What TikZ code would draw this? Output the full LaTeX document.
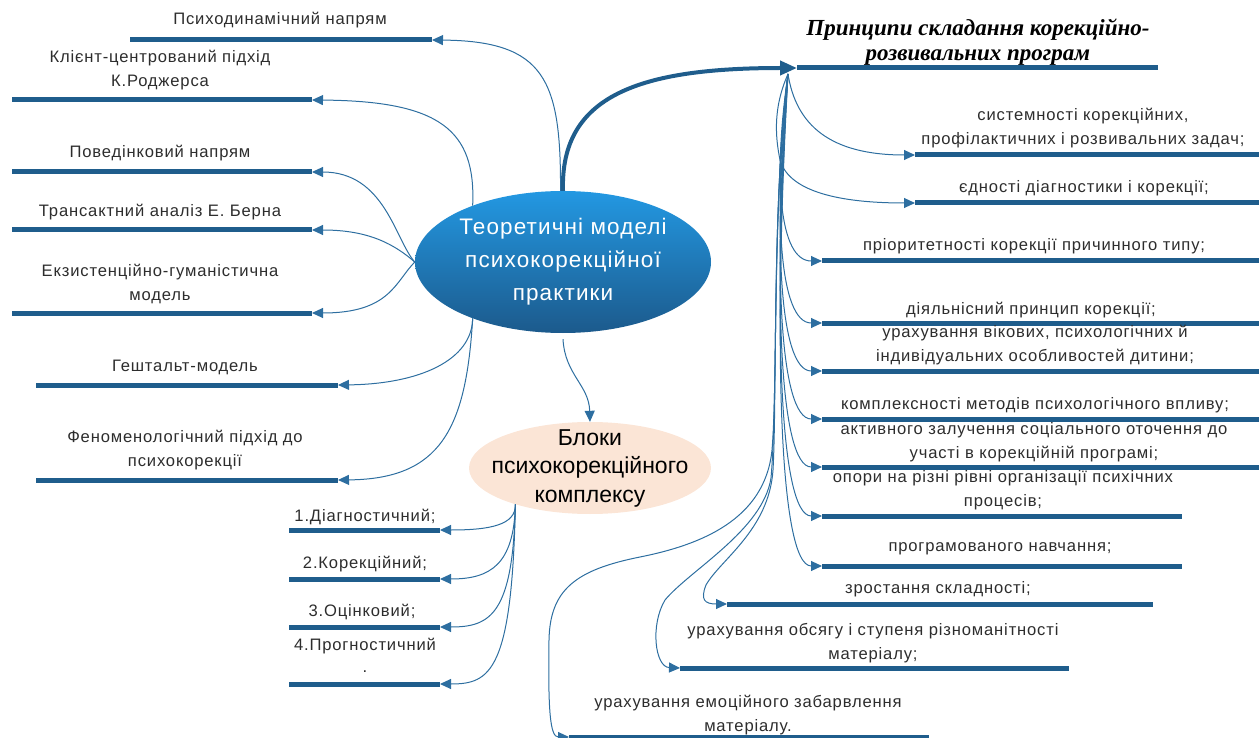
\documentclass[tikz,border=0pt]{standalone}
\usepackage{fontspec}
\setmainfont{Liberation Sans}
\newfontfamily\titlefont{Liberation Serif}
\newfontfamily\lblfont[LetterSpace=5]{Liberation Sans}
\usetikzlibrary{arrows.meta,shapes.geometric}
\definecolor{barblue}{RGB}{31,93,140}
\definecolor{curveblue}{RGB}{45,110,160}
\definecolor{txtgray}{RGB}{45,45,45}
\definecolor{ellTop}{RGB}{35,152,226}
\definecolor{ellBot}{RGB}{28,90,140}
\definecolor{peach}{RGB}{251,229,214}
\begin{document}
\begin{tikzpicture}[x=1pt,y=-1pt,
  bar/.style={barblue,line width=5pt},
  link/.style={curveblue,line width=1pt,-{Triangle[length=11pt,width=10pt]}},
  lbl/.style={text=txtgray,font=\lblfont\fontsize{16.6}{23.5}\selectfont,align=center,inner sep=0pt},
]
\useasboundingbox (0,0) rectangle (1259,738);

% ---------- central ellipses ----------
\node[ellipse,minimum width=296pt,minimum height=142pt,inner sep=0pt,
      top color=ellTop,bottom color=ellBot,text=white,align=center,
      font=\lblfont\fontsize{22.5}{33}\selectfont] (main) at (563,262)
      {Теоретичні моделі\\психокорекційної\\практики};
\node[ellipse,minimum width=242pt,minimum height=92pt,inner xsep=-26pt,inner ysep=-10pt,
      fill=peach,text=black,align=center,
      font=\fontsize{23}{28.5}\selectfont] (blocks) at (590,468)
      {Блоки\\психокорекційного\\комплексу};

% ---------- left bars ----------
\coordinate (l1s) at (130,40);  \coordinate (l1e) at (432,40);
\coordinate (l2s) at (12,100);  \coordinate (l2e) at (312,100);
\coordinate (l3s) at (12,172);  \coordinate (l3e) at (312,172);
\coordinate (l4s) at (12,230);  \coordinate (l4e) at (312,230);
\coordinate (l5s) at (12,313);  \coordinate (l5e) at (312,313);
\coordinate (l6s) at (36,385);  \coordinate (l6e) at (338,385);
\coordinate (l7s) at (36,480);  \coordinate (l7e) at (338,480);
\foreach \i in {1,...,7} {\draw[bar] (l\i s) -- (l\i e);}

\node[lbl] (t1) at (280,20) {Психодинамічний напрям};
\node[lbl] (t2) at (160,70) {Клієнт-центрований підхід\\К.Роджерса};
\node[lbl] (t3) at (160,153) {Поведінковий напрям};
\node[lbl] (t4) at (160,212) {Трансактний аналіз Е. Берна};
\node[lbl] (t5) at (160,284) {Екзистенційно-гуманістична\\модель};
\node[lbl] (t6) at (185,367) {Гештальт-модель};
\node[lbl] (t7) at (185,450) {Феноменологічний підхід до\\психокорекції};

\draw[link] (main.92) .. controls (561,80) and (545,41) .. (l1e);
\draw[link] (main.148) .. controls (476,130) and (440,101) .. (l2e);
\draw[link] (main.west) .. controls (395,240) and (385,172) .. (l3e);
\draw[link] (main.west) .. controls (395,245) and (370,230) .. (l4e);
\draw[link] (main.west) .. controls (395,282) and (390,313) .. (l5e);
\draw[link] (main.212) .. controls (472,360) and (420,384) .. (l6e);
\draw[link] (main.212) .. controls (466,430) and (440,479) .. (l7e);

% ---------- blocks ----------
\draw[link] ([yshift=-6pt]main.south) .. controls (565,375) and (589,385) .. (blocks.north);

\coordinate (n1s) at (289,530); \coordinate (n1e) at (440,530);
\coordinate (n2s) at (289,579); \coordinate (n2e) at (440,579);
\coordinate (n3s) at (289,627); \coordinate (n3e) at (440,627);
\coordinate (n4s) at (289,684); \coordinate (n4e) at (440,684);
\foreach \i in {1,...,4} {\draw[bar] (n\i s) -- (n\i e);}
\node[lbl] (u1) at (365,517) {1.Діагностичний;};
\node[lbl] (u2) at (365,564) {2.Корекційний;};
\node[lbl] (u3) at (362,612) {3.Оцінковий;};
\node[lbl] (u4) at (365,646) {4.Прогностичний};
\node[lbl] (u5) at (365,672) {.};
\draw[link] (blocks.206) .. controls (516,525) and (490,530) .. (n1e);
\draw[link] (blocks.206) .. controls (514,565) and (490,579) .. (n2e);
\draw[link] (blocks.206) .. controls (513,615) and (490,627) .. (n3e);
\draw[link] (blocks.206) .. controls (512,672) and (490,684) .. (n4e);

% ---------- principles ----------
\coordinate (p0s) at (797,68); \coordinate (p0e) at (1158,68);
\draw[bar] (p0s) -- (p0e);
\draw[barblue,line width=4pt,-{Triangle[length=17pt,width=14pt]}]
  (main.north) .. controls (560,95) and (640,68) .. (p0s);
\node[font=\titlefont\bfseries\itshape\fontsize{23}{25}\selectfont,align=center,inner sep=0pt] (title) at (978,42)
  {Принципи складання корекційно-\\розвивальних програм};
\coordinate (hub) at (788,74);

\coordinate (ra) at (915,155); \coordinate (rae) at (1259,155);
\coordinate (rb) at (915,203); \coordinate (rbe) at (1259,203);
\coordinate (rc) at (822,261); \coordinate (rce) at (1259,261);
\coordinate (rd) at (822,323); \coordinate (rde) at (1259,323);
\coordinate (re) at (822,371); \coordinate (ree) at (1259,371);
\coordinate (rf) at (822,419); \coordinate (rfe) at (1259,419);
\coordinate (rg) at (822,467); \coordinate (rge) at (1259,467);
\coordinate (rh) at (822,516); \coordinate (rhe) at (1182,516);
\coordinate (ri) at (822,566); \coordinate (rie) at (1182,566);
\coordinate (rj) at (727,604); \coordinate (rje) at (1153,604);
\coordinate (rk) at (680,668); \coordinate (rke) at (1069,668);
\coordinate (rl) at (569,737); \coordinate (rle) at (929,737);
\foreach \k in {a,b,c,d,e,f,g,h,i,j,k,l} {\draw[bar] (r\k) -- (r\k e);}

\node[lbl] (sa) at (1083,128) {системності корекційних,\\профілактичних і розвивальних задач;};
\node[lbl] (sb) at (1084,188) {єдності діагностики і корекції;};
\node[lbl] (sc) at (1034,246) {пріоритетності корекції причинного типу;};
\node[lbl] (sd) at (1031,310) {діяльнісний принцип корекції;};
\node[lbl] (se) at (1035,345) {урахування вікових, психологічних й\\індивідуальних особливостей дитини;};
\node[lbl] (sf) at (1035,405) {комплексності методів психологічного впливу;};
\node[lbl] (sg) at (1034,442) {активного залучення соціального оточення до\\участі в корекційній програмі;};
\node[lbl] (sh) at (1003,490) {опори на різні рівні організації психічних\\процесів;};
\node[lbl] (si) at (1000,549) {програмованого навчання;};
\node[lbl] (sj) at (938,589) {зростання складності;};
\node[lbl] (sk) at (873,643) {урахування обсягу і ступеня різноманітності\\матеріалу;};
\node[lbl] (sl) at (748,715) {урахування емоційного забарвлення\\матеріалу.};

\draw[link] (hub) .. controls (796,125) and (830,155) .. (ra);
\draw[link] (hub) .. controls (772,110) and (776,140) .. (780,160)
                  .. controls (790,195) and (850,203) .. (rb);
\foreach \k/\y in {c/261,d/323,e/371,f/419,g/467,h/516,i/566} {
  \draw[link] (hub) .. controls (773,{74+0.55*(\y-74)}) and (779,\y) .. (r\k);
}
\draw[link] (hub) .. controls (772,200) and (777,400) .. (773,470)
                  .. controls (769,530) and (720,560) .. (706,585)
                  .. controls (700,600) and (705,604) .. (rj);
\draw[link] (hub) .. controls (772,200) and (778,400) .. (771,478)
                  .. controls (763,530) and (690,570) .. (665,600)
                  .. controls (650,625) and (655,667) .. (rk);
\draw[link] (hub) .. controls (772,200) and (778,380) .. (772,450)
                  .. controls (765,520) and (700,545) .. (640,557)
                  .. controls (575,570) and (550,590) .. (549,640)
                  .. controls (548,710) and (550,737) .. (rl);
\end{tikzpicture}
\end{document}
